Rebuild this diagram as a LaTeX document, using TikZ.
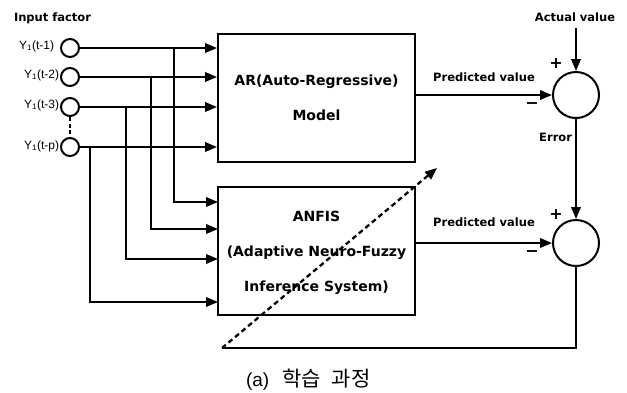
\documentclass[tikz,border=0pt]{standalone}
\usepackage{fontspec}
\setmainfont{Liberation Sans}
\newfontfamily\djfont{DejaVu Sans}
\newfontfamily\krfont{Noto Sans CJK KR}
\usetikzlibrary{arrows.meta}
\begin{document}
\begin{tikzpicture}[x=1pt,y=-1pt,
  line width=2pt,
  arr/.style={-{Triangle[length=12pt,width=9.5pt]}},
  inc/.style={circle,draw,minimum size=18pt,inner sep=0pt},
  sumc/.style={circle,draw,minimum size=46pt,inner sep=0pt},
  box/.style={draw,inner sep=0pt},
  btxt/.style={inner sep=0pt,anchor=base,font=\djfont\bfseries\fontsize{14}{16}\selectfont},
  lab/.style={font=\djfont\bfseries\fontsize{11.5}{13}\selectfont,inner sep=0pt,anchor=base},
  ylab/.style={font=\fontsize{12}{14}\selectfont,inner sep=0pt,anchor=base east},
  sign/.style={font=\djfont\bfseries\fontsize{16}{16}\selectfont,inner sep=0pt}]
\useasboundingbox (0,0) rectangle (627,392);
% inputs
\node[lab,anchor=base west] (inf) at (13,21) {Input factor};
\node[inc] (i1) at (70,48) {};
\node[inc] (i2) at (70,77) {};
\node[inc] (i3) at (70,107) {};
\node[inc] (i4) at (70,147) {};
\node[ylab] (l1) at (55,49) {Y\textsubscript{1}(t-1)};
\node[ylab] (l2) at (60,78) {Y\textsubscript{1}(t-2)};
\node[ylab] (l3) at (60,108) {Y\textsubscript{1}(t-3)};
\node[ylab] (l4) at (60,149) {Y\textsubscript{1}(t-p)};
\draw[dash pattern=on 4pt off 2.5pt] (i3) -- (i4);
% boxes
\node[box,minimum width=197pt,minimum height=128pt] (ar) at (316.5,98) {};
\node[btxt] (art1) at (316.5,85) {AR(Auto-Regressive)};
\node[btxt] (art2) at (316.5,120) {Model};
\node[box,minimum width=197pt,minimum height=128pt] (an) at (316.5,251) {};
\node[btxt] (ant1) at (316.5,221) {ANFIS};
\node[btxt] (ant2) at (316.5,256.5) {(Adaptive Neuro-Fuzzy};
\node[btxt] (ant3) at (316.5,291.5) {Inference System)};
% input lines to AR
\draw[arr] (i1) -- (i1 -| ar.west);
\draw[arr] (i2) -- (i2 -| ar.west);
\draw[arr] (i3) -- (i3 -| ar.west);
\draw[arr] (i4) -- (i4 -| ar.west);
% drops to ANFIS
\coordinate (d1) at (174,48);
\coordinate (d2) at (151,77);
\coordinate (d3) at (126,107);
\coordinate (d4) at (90,147);
\coordinate (a1) at (218,202);
\coordinate (a2) at (218,229);
\coordinate (a3) at (218,259);
\coordinate (a4) at (218,302);
\draw[arr] (d1) |- (a1);
\draw[arr] (d2) |- (a2);
\draw[arr] (d3) |- (a3);
\draw[arr] (d4) |- (a4);
% summing junctions
\node[sumc] (s1) at (576,95) {};
\node[sumc] (s2) at (576,243) {};
\draw[arr] (ar.east |- s1) -- (s1);
\draw[arr] (an.east |- s2) -- (s2);
\node[lab] (pv1) at (484,81) {Predicted value};
\node[lab] (pv2) at (484,226) {Predicted value};
\node[sign] (p1) at (556,63) {+};
\node[sign] (m1) at (532,106) {−};
\node[sign] (p2) at (556,214) {+};
\node[sign] (m2) at (532,254) {−};
\node[lab] (act) at (575,21) {Actual value};
\coordinate (av) at (576,28);
\draw[arr] (av) -- (s1);
\draw[arr] (s1) -- (s2);
\node[lab,anchor=base east] (err) at (573,141) {Error};
% feedback
\coordinate (fb) at (222,348);
\coordinate (tip) at (437,168);
\draw (s2) |- (fb);
\draw[arr,line width=2.3pt,dash pattern=on 5pt off 3.5pt] (fb) -- (tip);
% caption
\node[inner sep=0pt,anchor=base west] (cap) at (245,386) {\fontsize{19}{22}\selectfont (a)\hspace{13pt}{\krfont\fontsize{21}{24}\selectfont 학습}\hspace{11pt}{\krfont\fontsize{21}{24}\selectfont 과정}};
\end{tikzpicture}
\end{document}
